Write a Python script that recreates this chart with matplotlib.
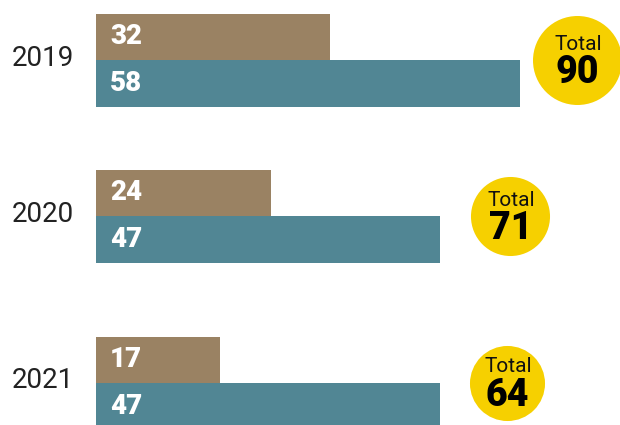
import matplotlib
matplotlib.use("Agg")
import matplotlib.pyplot as plt
import numpy as np

years = ["2019", "2020", "2021"]
series_a = [32, 24, 17]   # brown
series_b = [58, 47, 47]   # teal
totals = [90, 71, 64]
bubble_offset = [7.8, 9.7, 9.2]  # gap between teal bar end and bubble centre (data units)

# layout (pixel rows)
row_centers = [60, 216, 383]
bar_h = 46.5

brown = "#9a8263"
teal = "#518694"
yellow = "#f6d000"

plt.rcParams['font.family'] = ['Roboto', 'DejaVu Sans']

W, H = 620, 425
fig = plt.figure(figsize=(W / 100, H / 100), dpi=100)
ax = fig.add_axes([0, 0, 1, 1])
scale = 7.31  # px per unit
x0 = 96
ax.set_xlim(-x0 / scale, (W - x0) / scale)
ax.set_ylim(H, 0)
ax.axis("off")

for i, yr in enumerate(years):
    yc = row_centers[i]
    ax.barh(yc - bar_h / 2, series_a[i], height=bar_h, color=brown, left=0)
    ax.barh(yc + bar_h / 2, series_b[i], height=bar_h, color=teal, left=0)
    lx = 14 / scale
    ax.text(lx, yc - bar_h / 2, str(series_a[i]), color="white", fontsize=20,
            fontweight="black", va="center", ha="left")
    ax.text(lx, yc + bar_h / 2, str(series_b[i]), color="white", fontsize=20,
            fontweight="black", va="center", ha="left")
    ax.text(-x0 / scale + 12 / scale, yc - 2, yr, color="#222222", fontsize=20,
            va="center", ha="left")
    # bubble
    cx = series_b[i] + bubble_offset[i]
    d_px = 89 * np.sqrt(totals[i] / 90)
    s = (d_px * 0.72) ** 2
    ax.scatter([cx], [yc], s=s, color=yellow, zorder=3, linewidths=0)
    ax.text(cx + 1 / scale, yc - 16, "Total", color="#111111", fontsize=15, ha="center",
            va="center", zorder=4)
    ax.text(cx, yc + 12, str(totals[i]), color="#000000", fontsize=27,
            fontweight="black", ha="center", va="center", zorder=4)

fig.savefig("out.png", dpi=100)
